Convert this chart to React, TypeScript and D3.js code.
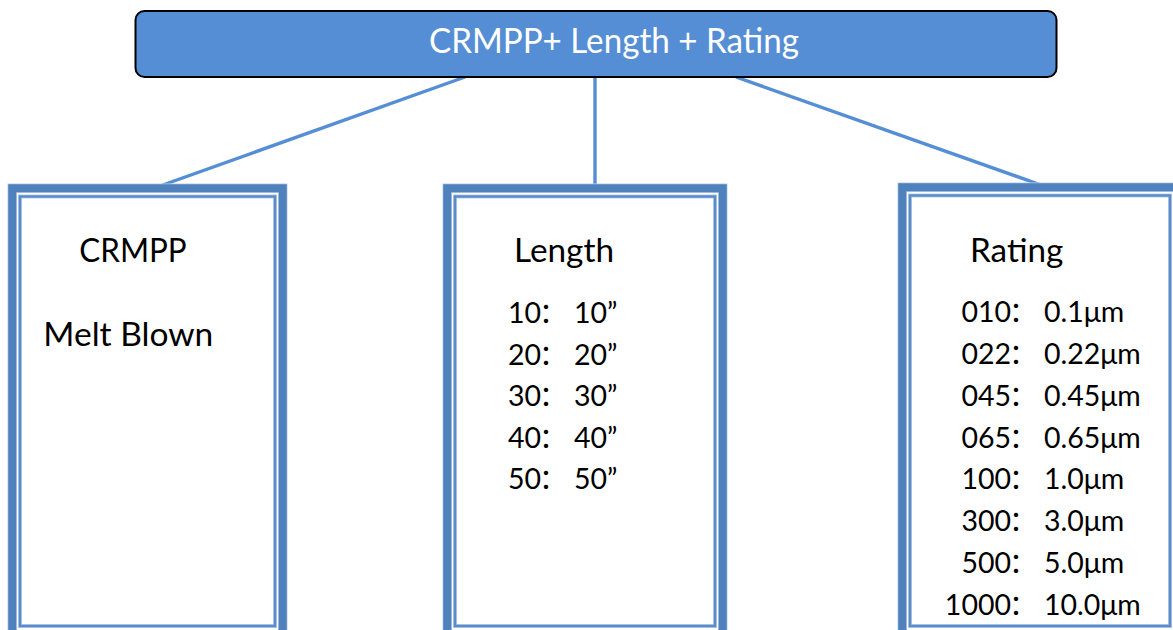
import React from "react";
import * as d3 from "d3";

const TITLE = "CRMPP+ Length + Rating";
const headers = ["CRMPP", "Length", "Rating"];
const crmppLines = ["Melt Blown"];
const lengthCodes = ["10", "20", "30", "40", "50"];
const lengthValues = ["10”", "20”", "30”", "40”", "50”"];
const ratingCodes = ["010", "022", "045", "065", "100", "300", "500", "1000"];
const ratingValues = ["0.1μm", "0.22μm", "0.45μm", "0.65μm", "1.0μm", "3.0μm", "5.0μm", "10.0μm"];

const W = 1173;
const H = 630;
const FONT = "Lato, 'Open Sans', sans-serif";
const CJK = "'Noto Sans CJK SC', sans-serif";
const BLUE = "#4F81BD";
const FILL = "#558ED5";

const boxes = [
  { x0: 8, x1: 287, y0: 184, anchor: 160 },
  { x0: 443, x1: 727, y0: 184, anchor: 595 },
  { x0: 898, x1: 1182, y0: 183, anchor: 1041 },
];
const topStarts = [465, 595, 736];

function Box({ x0, x1, y0 }: { x0: number; x1: number; y0: number }) {
  const bottom = 642;
  const innerBottom = 626;
  return (
    <g>
      <rect x={x0 + 4.25} y={y0 + 4.25} width={x1 - x0 - 8.5} height={bottom - y0} fill="white" stroke="#B9CDE7" strokeWidth={9.5} />
      <rect x={x0 + 4.25} y={y0 + 4.25} width={x1 - x0 - 8.5} height={bottom - y0} fill="none" stroke={BLUE} strokeWidth={8} />
      <rect x={x0 + 12} y={y0 + 12.5} width={x1 - x0 - 24} height={innerBottom - (y0 + 12.5)} fill="none" stroke="#B9CDE7" strokeWidth={4} />
      <rect x={x0 + 12} y={y0 + 12.5} width={x1 - x0 - 24} height={innerBottom - (y0 + 12.5)} fill="none" stroke="#5A8BCB" strokeWidth={2.4} />
    </g>
  );
}

function Items({ codes, values, colonX, y }: { codes: string[]; values: string[]; colonX: number; y: d3.ScaleLinear<number, number> }) {
  return (
    <g fontFamily={FONT} fontSize={28.5} fill="#000">
      {codes.map((c, i) => (
        <g key={c}>
          <text x={colonX + 26} y={y(i)} textAnchor="end">
            {c}
            <tspan fontFamily={CJK} fontSize={28} dx={-2}>：</tspan>
          </text>
          <text x={colonX + 33} y={y(i)}>{values[i]}</text>
        </g>
      ))}
    </g>
  );
}

export default function App() {
  const yLen = d3.scaleLinear().domain([0, lengthCodes.length - 1]).range([323.3, 489.3]);
  const yRat = d3.scaleLinear().domain([0, ratingCodes.length - 1]).range([322.3, 614.5]);
  return (
    <svg width={W} height={H} style={{ position: "absolute", left: 0, top: 0, background: "#fff" }}>
      {boxes.map((b, i) => (
        <line key={"l" + i} x1={topStarts[i]} y1={77} x2={b.anchor} y2={b.y0 + 2} stroke={FILL} strokeWidth={3.4} />
      ))}
      {boxes.map((b, i) => (
        <Box key={"b" + i} x0={b.x0} x1={b.x1} y0={b.y0} />
      ))}
      <rect x={135.5} y={11} width={921} height={66} rx={9} ry={9} fill={FILL} stroke="#000" strokeWidth={2} />
      <text x={429} y={53.3} fontFamily={FONT} fontSize={35} fill="#fff" textLength={370} lengthAdjust="spacingAndGlyphs">{TITLE}</text>

      <g fontFamily={FONT} fontSize={33} fill="#000">
        <text x={79.3} y={261.7} textLength={107.4} lengthAdjust="spacingAndGlyphs">{headers[0]}</text>
        <text x={514} y={261.7} textLength={100} lengthAdjust="spacingAndGlyphs">{headers[1]}</text>
        <text x={970} y={261.7} textLength={93.3} lengthAdjust="spacingAndGlyphs">{headers[2]}</text>
        <text x={43.3} y={345.7} textLength={170} lengthAdjust="spacingAndGlyphs">{crmppLines[0]}</text>
      </g>

      <Items codes={lengthCodes} values={lengthValues} colonX={541} y={yLen} />
      <Items codes={ratingCodes} values={ratingValues} colonX={1011} y={yRat} />
    </svg>
  );
}
